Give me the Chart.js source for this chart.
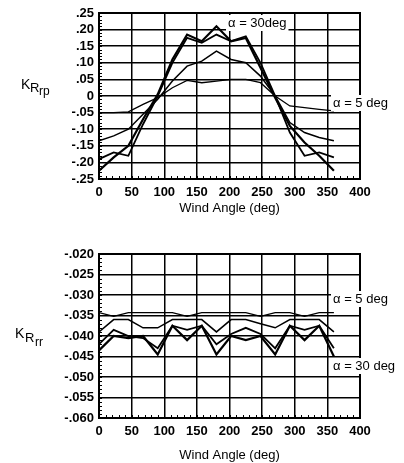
<!DOCTYPE html>
<html>
<head>
<meta charset="utf-8">
<script src="https://cdn.jsdelivr.net/npm/chart.js@4/dist/chart.umd.min.js"></script>
<style>
  html, body { margin: 0; padding: 0; background: #fff; overflow: hidden; }
  canvas { position: absolute; left: 0; }
  #rpChart { top: 0; }
  #rrChart { top: 230px; }
</style>
</head>
<body>
<canvas id="rpChart" width="404" height="230"></canvas>
<canvas id="rrChart" width="404" height="233"></canvas>
<script>
// wind angle (deg) of each reading
const angles = [0, 22.5, 45, 67.5, 90, 112.5, 135, 157.5, 180, 202.5, 225, 247.5, 270, 292.5, 315, 337.5, 360];

// K_Rrp, one array per angle of attack
const rp5  = [-0.05, -0.05, -0.048, -0.025, -0.005, 0.025, 0.047, 0.04, 0.045, 0.05, 0.05, 0.04, 0.0, -0.03, -0.035, -0.04, -0.045];
const rp10 = [-0.135, -0.12, -0.10, -0.055, -0.01, 0.045, 0.09, 0.105, 0.135, 0.11, 0.10, 0.06, 0.0, -0.08, -0.11, -0.125, -0.135];
const rp20 = [-0.19, -0.17, -0.18, -0.085, 0.0, 0.10, 0.175, 0.16, 0.185, 0.165, 0.18, 0.10, 0.0, -0.11, -0.18, -0.17, -0.185];
const rp30 = [-0.225, -0.185, -0.15, -0.07, 0.005, 0.11, 0.185, 0.165, 0.21, 0.165, 0.175, 0.085, -0.005, -0.09, -0.14, -0.18, -0.225];

// K_Rrr
const rr5  = [-0.0343, -0.0352, -0.0343, -0.0343, -0.0343, -0.0343, -0.0352, -0.0343, -0.0343, -0.0343, -0.0343, -0.0352, -0.0343, -0.0343, -0.0352, -0.0343, -0.0343];
const rr10 = [-0.039, -0.036, -0.036, -0.038, -0.038, -0.036, -0.036, -0.036, -0.039, -0.036, -0.036, -0.037, -0.038, -0.036, -0.036, -0.036, -0.039];
const rr20 = [-0.042, -0.0385, -0.040, -0.0405, -0.043, -0.0375, -0.0385, -0.0375, -0.042, -0.0395, -0.038, -0.0395, -0.043, -0.0375, -0.0385, -0.0375, -0.043];
const rr30 = [-0.0435, -0.040, -0.0405, -0.040, -0.0445, -0.0375, -0.041, -0.0375, -0.0445, -0.040, -0.041, -0.040, -0.0445, -0.0375, -0.041, -0.0375, -0.045];

// tick labels
const xTicks  = [0, 50, 100, 150, 200, 250, 300, 350, 400];
const rpTicks = [-0.25, -0.20, -0.15, -0.10, -0.05, 0, 0.05, 0.10, 0.15, 0.20, 0.25];
const rrTicks = [-0.060, -0.055, -0.050, -0.045, -0.040, -0.035, -0.030, -0.025, -0.020];

const FONT = '"Liberation Sans", Arial, Helvetica, sans-serif';

function fmt(v, d) {
  if (Math.abs(v) < 1e-9) return '0';
  return v.toFixed(d).replace('0.', '.');
}

function pts(arr) {
  return angles.map((a, i) => ({ x: a, y: arr[i] }));
}

// minor ticks on left/bottom edges + heavier frame
const frame = {
  id: 'frame',
  afterDraw(chart, args, opts) {
    const { ctx, chartArea: a, scales } = chart;
    const x = scales.x, y = scales.y;
    ctx.save();
    ctx.strokeStyle = '#000';
    ctx.lineWidth = 1;
    ctx.beginPath();
    for (let v = 0; v <= 400; v += 10) {
      const px = Math.round(x.getPixelForValue(v)) + 0.5;
      ctx.moveTo(px, a.bottom);
      ctx.lineTo(px, a.bottom - 3);
    }
    const n = Math.round((y.max - y.min) / opts.yStep);
    for (let i = 0; i <= n; i++) {
      const py = Math.round(y.getPixelForValue(y.min + i * opts.yStep)) + 0.5;
      ctx.moveTo(a.left, py);
      ctx.lineTo(a.left + 3, py);
    }
    ctx.stroke();
    ctx.lineWidth = 2;
    ctx.strokeRect(a.left, a.top, a.right - a.left, a.bottom - a.top);
    ctx.restore();
  }
};

// y title with subscripts and the alpha labels
const notes = {
  id: 'notes',
  afterDraw(chart, args, opts) {
    const ctx = chart.ctx;
    ctx.save();
    ctx.fillStyle = '#000';
    ctx.textBaseline = 'alphabetic';
    opts.title.forEach(p => {
      ctx.font = p.size + 'px ' + FONT;
      ctx.fillText(p.text, p.x, p.y);
    });
    ctx.font = '13px ' + FONT;
    ctx.textBaseline = 'middle';
    opts.labels.forEach(l => {
      const w = ctx.measureText(l.text).width;
      ctx.fillStyle = '#fff';
      ctx.fillRect(l.x - 2, l.y - 8, w + 4, 16);
      ctx.fillStyle = '#000';
      ctx.fillText(l.text, l.x, l.y);
    });
    ctx.restore();
  }
};

function makeChart(id, series, yTicks, digits, o) {
  const widths = [1.3, 1.5, 1.8, 2.2];
  new Chart(document.getElementById(id), {
    type: 'line',
    data: {
      datasets: series.map((s, i) => ({
        data: pts(s),
        borderColor: '#000',
        borderWidth: widths[i],
        pointRadius: 0,
        tension: 0,
        fill: false
      }))
    },
    options: {
      responsive: false,
      animation: false,
      layout: { padding: { left: 0, right: 44, top: o.top, bottom: 0 } },
      plugins: {
        legend: { display: false },
        tooltip: { enabled: false },
        frame: { yStep: o.yStep },
        notes: { title: o.title, labels: o.labels }
      },
      scales: {
        x: {
          type: 'linear',
          min: 0, max: 400,
          afterBuildTicks: s => { s.ticks = xTicks.map(v => ({ value: v })); },
          afterFit: s => { s.height = o.xHeight; },
          grid: { color: '#000', lineWidth: 1.5, drawTicks: false },
          border: { display: false },
          ticks: { color: '#000', padding: 6, maxRotation: 0, autoSkip: false, font: { family: FONT, size: 13, weight: 'bold' } },
          title: {
            display: true,
            text: 'Wind Angle (deg)',
            color: '#000',
            padding: o.titlePad,
            font: { family: FONT, size: 13 }
          }
        },
        y: {
          type: 'linear',
          min: yTicks[0], max: yTicks[yTicks.length - 1],
          afterBuildTicks: s => { s.ticks = yTicks.map(v => ({ value: v })); },
          afterFit: s => { s.width = 99; },
          grid: { color: '#000', lineWidth: 1.5, drawTicks: false },
          border: { display: false },
          ticks: {
            color: '#000', padding: 5, autoSkip: false,
            font: { family: FONT, size: 13, weight: 'bold' },
            callback: v => fmt(v, digits)
          }
        }
      }
    },
    plugins: [frame, notes]
  });
}

makeChart('rpChart', [rp5, rp10, rp20, rp30], rpTicks, 2, {
  top: 13, xHeight: 51, yStep: 0.01, titlePad: { top: 14, bottom: 14 },
  title: [
    { text: 'K', x: 21, y: 89, size: 14 },
    { text: 'R', x: 30, y: 92, size: 13 },
    { text: 'rp', x: 39, y: 95, size: 12 }
  ],
  labels: [
    { text: '\u03b1 = 30deg', x: 228, y: 23 },
    { text: '\u03b1 = 5 deg', x: 333, y: 103 }
  ]
});

makeChart('rrChart', [rr5, rr10, rr20, rr30], rrTicks, 3, {
  top: 24, xHeight: 45, yStep: 0.001, titlePad: { top: 0, bottom: 0 },
  title: [
    { text: 'K', x: 15, y: 108, size: 14 },
    { text: 'R', x: 25, y: 112, size: 13 },
    { text: 'rr', x: 35, y: 116, size: 12 }
  ],
  labels: [
    { text: '\u03b1 = 5 deg', x: 333, y: 69 },
    { text: '\u03b1 = 30 deg', x: 333, y: 136 }
  ]
});
</script>
</body>
</html>
